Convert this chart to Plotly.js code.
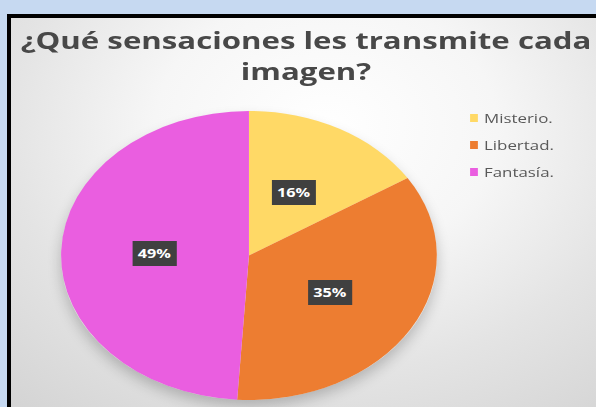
<!DOCTYPE html>
<html>
<head>
<meta charset="utf-8">
<script src="https://cdn.plot.ly/plotly-3.0.1.min.js"></script>
<style>
  html, body { margin:0; padding:0; width:596px; height:407px; overflow:hidden; background:#c6d9f1; }
  #frame { position:absolute; left:7px; top:14px; width:700px; height:500px; border:4px solid #000;
    background: radial-gradient(ellipse 70% 75% at 45% 22%, #ffffff 0%, #f6f6f6 35%, #e4e4e4 65%, #d3d3d3 100%); }
  #shadow { position:absolute; left:61px; top:113px; width:376px; height:287px; border-radius:50%;
    box-shadow: 0 6px 14px 0 rgba(0,0,0,0.22); }
  #chart { position:absolute; left:0; top:0; width:459px; height:407px; transform:scaleX(1.3); transform-origin:0 0; }
</style>
</head>
<body>
<div id="frame"></div>
<div id="shadow"></div>
<div id="chart"></div>
<script>
const labels = ['Misterio.', 'Libertad.', 'Fantasía.'];
const values = [16, 35, 49];
const colors = ['#FFD966', '#ED7D31', '#EA5EE0'];
const titleText = '¿Qué sensaciones les transmite cada<br>imagen?';

// the whole chart is drawn at 459px wide and stretched 1.3x horizontally (like the reference)
const W = 459, H = 407;
const pcx = 191.5, pcy = 255.5, pr = 144.5;
const domX = [(pcx - pr) / W, (pcx + pr) / W];
const domY = [1 - (pcy + pr) / H, 1 - (pcy - pr) / H];

const total = values.reduce((a, b) => a + b, 0);
let cum = 0;
const annotations = values.map((v, i) => {
  const mid = (cum + v / 2) / total * 2 * Math.PI;
  cum += v;
  const px = pcx + 0.5 * pr * Math.sin(mid);
  const py = pcy - 0.5 * pr * Math.cos(mid);
  return {
    x: px / W, y: 1 - py / H, xref: 'paper', yref: 'paper', xanchor: 'center', yanchor: 'middle',
    showarrow: false,
    text: '<b>' + Math.round(v / total * 100) + '%</b>',
    font: {family: 'Open Sans, sans-serif', size: 12.5, color: '#ffffff'},
    bgcolor: '#404040', borderpad: 4, borderwidth: 0
  };
});

const data = [{
  type: 'pie', labels: labels, values: values, sort: false, direction: 'clockwise', rotation: 0,
  marker: {colors: colors, line: {width: 0}}, textinfo: 'none', hoverinfo: 'none',
  domain: {x: domX, y: domY}
}];

const layout = {
  width: W, height: H, margin: {l: 0, r: 0, t: 0, b: 0},
  paper_bgcolor: 'rgba(0,0,0,0)', plot_bgcolor: 'rgba(0,0,0,0)',
  title: {text: '<b>' + titleText + '</b>', x: 306 / 1.3 / W, xref: 'container', xanchor: 'center',
    y: 1 - 49 / H, yref: 'container', yanchor: 'middle',
    font: {family: 'Open Sans, sans-serif', size: 24, color: '#484848'}},
  showlegend: true,
  legend: {x: 332.3 / W, xanchor: 'left', y: 1 - 104 / H, yanchor: 'top', bgcolor: 'rgba(0,0,0,0)',
    font: {family: 'Open Sans, sans-serif', size: 13, color: '#595959'}, itemclick: false},
  annotations: annotations
};

Plotly.newPlot('chart', data, layout, {staticPlot: true, displayModeBar: false}).then(gd => {
  gd.querySelectorAll('.legend [clip-path]').forEach(e => e.removeAttribute('clip-path'));
  const items = gd.querySelectorAll('.legend .traces');
  let first = null, delta = 0;
  items.forEach((g, i) => {
    const m = /translate\(([^,]+),\s*([^)]+)\)/.exec(g.getAttribute('transform') || '');
    const x = m ? parseFloat(m[1]) : 0;
    const y = m ? parseFloat(m[2]) : 0;
    if (first === null) {
      first = y;
      const ctm = g.getScreenCTM();
      delta = 118 - (ctm ? ctm.f : 118);
    }
    g.setAttribute('transform', 'translate(' + x + ',' + (first + delta + i * 27) + ')');
  });
  gd.querySelectorAll('.legend .legendpoints').forEach(p => p.setAttribute('transform', 'translate(12.3,0)'));
  gd.querySelectorAll('.legend .legendpoints path').forEach(p => p.setAttribute('d', 'M3,4H-3V-4H3Z'));
});
</script>
</body>
</html>
